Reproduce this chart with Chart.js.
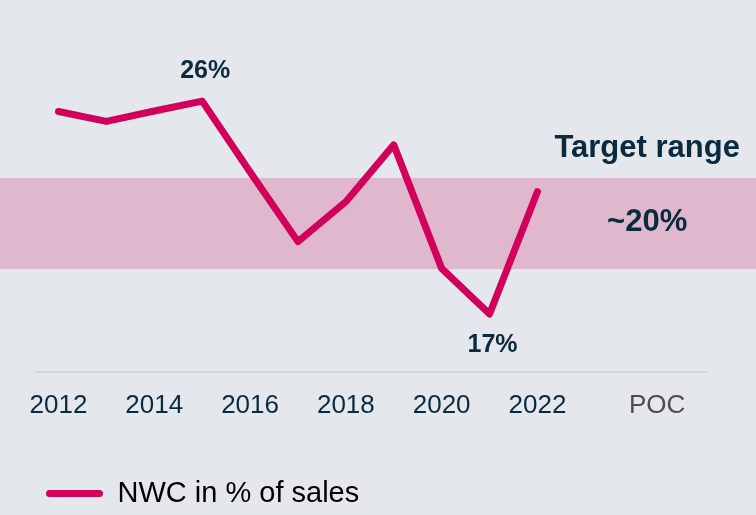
<!DOCTYPE html>
<html>
<head>
<meta charset="utf-8">
<script src="https://cdn.jsdelivr.net/npm/chart.js@4.4.1/dist/chart.umd.min.js"></script>
<style>
  html, body { margin: 0; padding: 0; background: #e4e8ec; }
  #wrap { width: 756px; height: 515px; }
</style>
</head>
<body>
<div id="wrap"><canvas id="nwc" width="756" height="515"></canvas></div>
<script>
// Net working capital as a share of sales, per fiscal year
const years = [2012, 2013, 2014, 2015, 2016, 2017, 2018, 2019, 2020, 2021, 2022];
const nwcShare = [25.56, 25.14, 25.58, 26.0, 23.0, 20.06, 21.75, 24.15, 18.93, 17.0, 22.17];
const seriesName = 'NWC in % of sales';

// Axis ticks: every second year plus the outlook column
const yearTicks = [2012, 2014, 2016, 2018, 2020, 2022];
const outlookLabel = 'POC';
const outlookYear = 2024.5;

// Target corridor
const targetBand = [18.9, 22.75];
const targetTitle = 'Target range';
const targetLabel = '~20%';

// Years whose value is written next to the line
const calloutYears = [2015, 2021];

const NAVY = '#0c2a3e';
const MAGENTA = '#d2005b';
const BAND = '#e0b8cd';
const BG = '#e4e8ec';
const FONT = "'Liberation Sans', Arial, Helvetica, sans-serif";

const backdrop = {
  id: 'backdrop',
  beforeDraw(chart) {
    const { ctx, width, height } = chart;
    ctx.save();
    ctx.fillStyle = BG;
    ctx.fillRect(0, 0, width, height);
    ctx.restore();
  }
};

const targetZone = {
  id: 'targetZone',
  beforeDatasetsDraw(chart) {
    const { ctx, width, scales: { x, y } } = chart;
    const top = y.getPixelForValue(targetBand[1]);
    const bottom = y.getPixelForValue(targetBand[0]);
    ctx.save();
    ctx.fillStyle = BAND;
    ctx.fillRect(0, top, width, bottom - top);
    const cx = x.getPixelForValue(outlookYear) - 10;
    ctx.fillStyle = NAVY;
    ctx.font = `bold 31px ${FONT}`;
    ctx.textAlign = 'center';
    ctx.textBaseline = 'middle';
    ctx.fillText(targetLabel, cx, (top + bottom) / 2 - 1);
    ctx.fillText(targetTitle, cx, top - 30);
    ctx.restore();
  }
};

const callouts = {
  id: 'callouts',
  afterDatasetsDraw(chart) {
    const { ctx, scales: { x, y } } = chart;
    const lo = Math.min(...nwcShare);
    ctx.save();
    ctx.fillStyle = NAVY;
    ctx.font = `bold 25px ${FONT}`;
    ctx.textAlign = 'center';
    ctx.textBaseline = 'middle';
    calloutYears.forEach((yr) => {
      const v = nwcShare[years.indexOf(yr)];
      const px = x.getPixelForValue(yr);
      const py = y.getPixelForValue(v);
      const below = v === lo;
      ctx.fillText(Math.round(v) + '%', px + 3, below ? py + 31 : py - 30);
    });
    ctx.restore();
  }
};

new Chart(document.getElementById('nwc'), {
  type: 'line',
  data: {
    datasets: [{
      label: seriesName,
      data: years.map((yr, i) => ({ x: yr, y: nwcShare[i] })),
      borderColor: MAGENTA,
      backgroundColor: MAGENTA,
      borderWidth: 7,
      borderCapStyle: 'round',
      borderJoinStyle: 'round',
      pointRadius: 0,
      tension: 0,
      fill: false
    }]
  },
  options: {
    responsive: false,
    animation: false,
    devicePixelRatio: 1,
    layout: { padding: { left: 36, right: 50, top: 10, bottom: -3 } },
    scales: {
      x: {
        type: 'linear',
        min: 2011.53,
        max: 2025.52,
        afterBuildTicks(axis) {
          axis.ticks = yearTicks.map(v => ({ value: v })).concat([{ value: outlookYear }]);
        },
        ticks: {
          autoSkip: false,
          maxRotation: 0,
          padding: 18,
          callback: (v) => (v === outlookYear ? outlookLabel : String(v)),
          color: (c) => (c.tick && c.tick.value === outlookYear ? '#4d4d4d' : NAVY),
          font: { family: FONT, size: 26 }
        },
        grid: { display: false, drawTicks: false },
        border: { display: true, color: '#d3d6da', width: 2 },
        afterFit(axis) { axis.height = 97; }
      },
      y: { display: false, min: 14.55, max: 29.85 }
    },
    plugins: {
      legend: {
        position: 'bottom',
        align: 'start',
        labels: {
          boxWidth: 57,
          boxHeight: 7,
          useBorderRadius: true,
          borderRadius: 3.5,
          color: NAVY,
          padding: 10,
          font: { family: FONT, size: 29 },
          generateLabels(chart) {
            return chart.data.datasets.map((ds, i) => ({
              text: ds.label,
              fillStyle: ds.borderColor,
              strokeStyle: ds.borderColor,
              lineWidth: 0,
              borderRadius: 3.5,
              datasetIndex: i,
              hidden: false
            }));
          }
        }
      },
      tooltip: { enabled: false }
    }
  },
  plugins: [backdrop, targetZone, callouts]
});
</script>
</body>
</html>
